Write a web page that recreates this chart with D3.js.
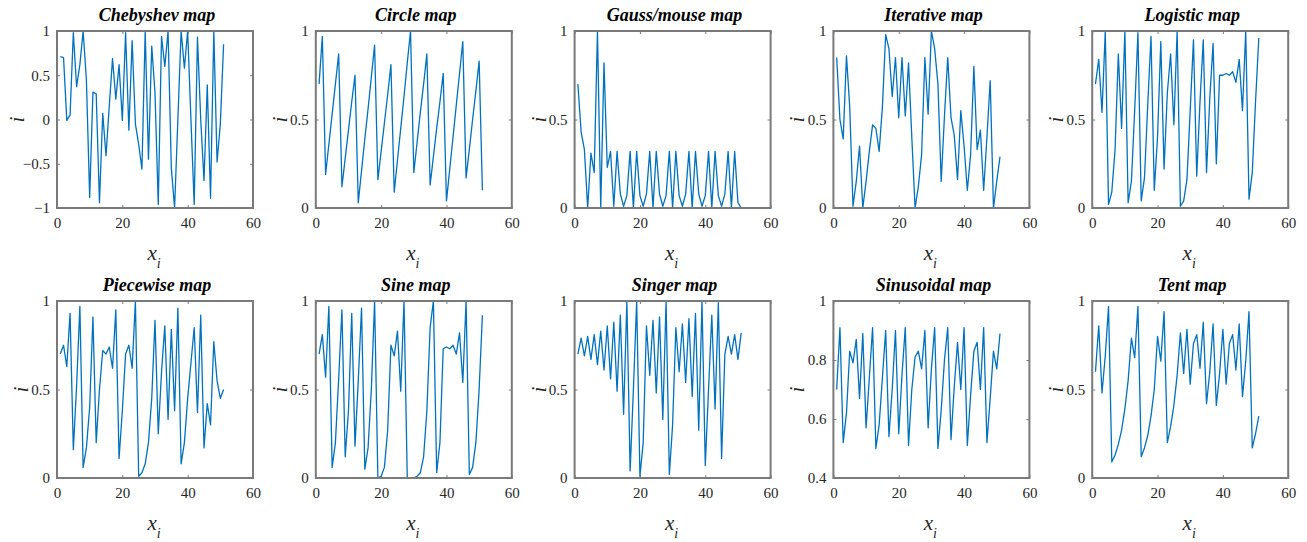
<!DOCTYPE html>
<meta charset="utf-8">

<style>
    body { margin: 0; background: #fff; }
    svg text { font-family: "Liberation Serif", "Times New Roman", serif; fill: #262626; }
    .tick text { font-size: 15px; }
    .title { font-size: 18px; font-weight: bold; font-style: italic; fill: #000; }
    .label { font-style: italic; }
    .frame { fill: none; stroke: #7a7a7a; stroke-width: 2px; }
    .series { fill: none; stroke: #0072bd; stroke-width: 1.3px; stroke-linejoin: round; }
</style>

<svg width="1307" height="542"></svg>

<script src="https://cdn.jsdelivr.net/npm/d3@7"></script>

<body>
<script>

    // values, x = 1..51
    var chebyshev = [0.71,0.70,-0.01,0.05,0.98,0.37,0.62,1.0,0.45,-0.88,
        0.31,0.29,-0.94,0.07,-0.41,0.15,0.69,0.23,0.62,-0.01,
        0.98,-0.12,0.89,-0.05,-0.28,-0.56,1.0,-0.45,0.83,0.30,
        -0.96,0.94,0.60,1.0,-0.55,-1.0,0.0,1.0,0.58,1.0,
        0.0,-0.96,0.93,0.0,-0.69,0.39,-0.89,1.0,-0.48,-0.05,0.85];

    var circle = [0.70,0.97,0.19,0.36,0.53,0.70,0.87,0.12,0.28,0.44,
        0.60,0.75,0.03,0.21,0.39,0.56,0.74,0.92,0.16,0.32,
        0.48,0.64,0.81,0.09,0.27,0.45,0.63,0.82,1.0,0.20,
        0.37,0.54,0.70,0.87,0.13,0.29,0.45,0.60,0.76,0.04,
        0.22,0.40,0.58,0.76,0.94,0.17,0.33,0.50,0.66,0.83,0.10];

    var gauss = [0.70,0.43,0.33,0.0,0.31,0.20,1.0,0.0,0.82,0.23,
        0.32,0.01,0.32,0.08,0.01,0.07,0.32,0.0,0.32,0.07,
        0.01,0.08,0.32,0.0,0.32,0.08,0.01,0.07,0.32,0.0,
        0.32,0.07,0.01,0.08,0.32,0.0,0.32,0.08,0.01,0.07,
        0.32,0.0,0.32,0.07,0.01,0.08,0.32,0.0,0.32,0.03,0.0];

    var iterative = [0.85,0.50,0.39,0.86,0.57,0.01,0.15,0.35,0.0,0.15,
        0.32,0.47,0.45,0.32,0.57,0.98,0.90,0.63,0.85,0.51,
        0.85,0.52,0.82,0.40,0.0,0.12,0.30,0.85,0.53,1.0,
        0.90,0.70,0.15,0.52,0.85,0.51,0.41,0.16,0.55,0.35,
        0.10,0.30,0.80,0.33,0.44,0.10,0.40,0.72,0.0,0.15,0.29];

    var logistic = [0.70,0.84,0.54,1.0,0.02,0.09,0.33,0.87,0.45,1.0,
        0.03,0.15,0.55,0.99,0.04,0.17,0.58,0.97,0.10,0.40,
        0.94,0.22,0.65,0.87,0.47,1.0,0.01,0.04,0.16,0.55,
        0.95,0.18,0.60,0.95,0.20,0.62,0.93,0.25,0.75,0.75,
        0.76,0.75,0.77,0.71,0.84,0.55,1.0,0.05,0.20,0.60,0.96];

    var piecewise = [0.70,0.75,0.63,0.93,0.16,0.52,0.97,0.06,0.17,0.40,
        0.91,0.20,0.50,0.72,0.70,0.74,0.62,0.95,0.11,0.38,
        0.70,0.75,0.62,1.0,0.01,0.03,0.08,0.20,0.45,0.89,
        0.25,0.60,0.86,0.33,0.84,0.38,0.96,0.08,0.20,0.45,
        0.65,0.85,0.37,0.92,0.17,0.42,0.30,0.77,0.55,0.45,0.50];

    var sine = [0.70,0.81,0.57,0.97,0.06,0.20,0.56,0.95,0.12,0.38,
        0.93,0.18,0.55,0.96,0.05,0.17,0.50,1.0,0.0,0.01,
        0.06,0.27,0.75,0.69,0.83,0.49,1.0,0.0,0.0,0.0,
        0.01,0.03,0.12,0.38,0.85,1.0,0.03,0.20,0.73,0.74,
        0.73,0.75,0.70,0.82,0.54,1.0,0.02,0.06,0.20,0.50,0.92];

    var singer = [0.70,0.79,0.69,0.80,0.67,0.81,0.64,0.83,0.61,0.86,
        0.56,0.88,0.49,0.92,0.36,1.0,0.04,0.50,1.0,0.01,
        0.20,0.86,0.58,0.89,0.48,0.91,0.33,1.0,0.02,0.30,
        0.85,0.60,0.87,0.54,0.90,0.46,0.93,0.27,1.0,0.07,
        0.50,0.92,0.39,0.99,0.11,0.70,0.80,0.70,0.81,0.67,0.82];

    var sinusoidal = [0.70,0.91,0.52,0.62,0.83,0.79,0.87,0.67,0.89,0.57,
        0.74,0.91,0.50,0.58,0.74,0.90,0.54,0.70,0.90,0.55,
        0.75,0.91,0.51,0.70,0.81,0.83,0.77,0.90,0.57,0.77,
        0.91,0.50,0.63,0.80,0.91,0.53,0.71,0.86,0.70,0.91,
        0.51,0.68,0.83,0.86,0.70,0.91,0.52,0.67,0.83,0.77,0.89];

    var tent = [0.60,0.86,0.48,0.69,0.97,0.09,0.13,0.19,0.27,0.39,
        0.55,0.79,0.68,0.97,0.12,0.17,0.24,0.35,0.50,0.80,
        0.66,0.94,0.20,0.29,0.41,0.58,0.82,0.59,0.84,0.53,
        0.76,0.81,0.62,0.88,0.42,0.60,0.87,0.41,0.59,0.84,
        0.53,0.76,0.81,0.61,0.87,0.46,0.66,0.94,0.17,0.25,0.35];

    var titles = ["Chebyshev map", "Circle map", "Gauss/mouse map", "Iterative map", "Logistic map",
        "Piecewise map", "Sine map", "Singer map", "Sinusoidal map", "Tent map"];
    var series = [chebyshev, circle, gauss, iterative, logistic,
        piecewise, sine, singer, sinusoidal, tent];

    var xTicks = [0, 20, 40, 60];
    var unitTicks = [0, 0.5, 1];
    var chebyTicks = [-1, -0.5, 0, 0.5, 1];
    var sinusoidalTicks = [0.4, 0.6, 0.8, 1];

    function yTicksFor(i) {
        if (i == 0) return chebyTicks;
        if (i == 8) return sinusoidalTicks;
        return unitTicks;
    }

    var serif = '"Liberation Serif", "Times New Roman", serif';
    var svg = d3.select("svg");
    var boxW = 196, boxH = 177;
    var colStep = 258.8;
    var rowTops = [31, 301];

    function strip(a) {
        a.select(".domain").remove();
        a.attr("font-family", serif).attr("font-size", 15);
        a.selectAll(".tick line").attr("stroke", "#7a7a7a");
        a.selectAll(".tick text").attr("fill", "#262626");
    }

    series.forEach(function (values, i) {
        var col = i % 5, row = Math.floor(i / 5);
        var left = 57 + col * colStep, top = rowTops[row];
        var yt = yTicksFor(i);

        var x = d3.scaleLinear().domain([0, 60]).range([left, left + boxW]);
        var y = d3.scaleLinear().domain([yt[0], yt[yt.length - 1]]).range([top + boxH, top]);

        var g = svg.append("g");
        var fmt = function (d) { return d3.format("~g")(d); };

        // bottom and left axes, ticks pointing in
        g.append("g").attr("transform", "translate(0," + (top + boxH) + ")")
            .call(d3.axisBottom(x).tickValues(xTicks).tickFormat(fmt).tickSizeInner(-3).tickSizeOuter(0).tickPadding(9))
            .call(strip);
        g.append("g").attr("transform", "translate(" + left + ",0)")
            .call(d3.axisLeft(y).tickValues(yt).tickFormat(fmt).tickSizeInner(-3).tickSizeOuter(0).tickPadding(7))
            .call(strip);
        // top and right: ticks only
        g.append("g").attr("transform", "translate(0," + top + ")")
            .call(d3.axisTop(x).tickValues(xTicks).tickFormat("").tickSizeInner(-3).tickSizeOuter(0))
            .call(strip);
        g.append("g").attr("transform", "translate(" + (left + boxW) + ",0)")
            .call(d3.axisRight(y).tickValues(yt).tickFormat("").tickSizeInner(-3).tickSizeOuter(0))
            .call(strip);

        var line = d3.line()
            .x(function (d, j) { return x(j + 1); })
            .y(function (d) { return y(d); });

        g.append("path").attr("class", "series").attr("d", line(values));

        g.append("rect").attr("class", "frame")
            .attr("x", left).attr("y", top).attr("width", boxW).attr("height", boxH);

        g.append("text").attr("class", "title")
            .attr("x", left + boxW / 2 + 2).attr("y", top - 10)
            .attr("text-anchor", "middle")
            .text(titles[i]);

        var xl = g.append("text").attr("class", "label")
            .attr("x", left + boxW / 2 - 1).attr("y", top + boxH + 52)
            .attr("text-anchor", "middle");
        xl.append("tspan").attr("font-size", "21px").text("x");
        xl.append("tspan").attr("font-size", "14px").attr("dy", "8").text("i");

        var yOff = i == 0 ? 33 : 29;
        g.append("text").attr("class", "label")
            .attr("transform", "translate(" + (left - yOff) + "," + (top + boxH / 2) + ") rotate(-90)")
            .attr("text-anchor", "middle")
            .attr("font-size", "20px")
            .text("i");
    });

</script>
</body>
